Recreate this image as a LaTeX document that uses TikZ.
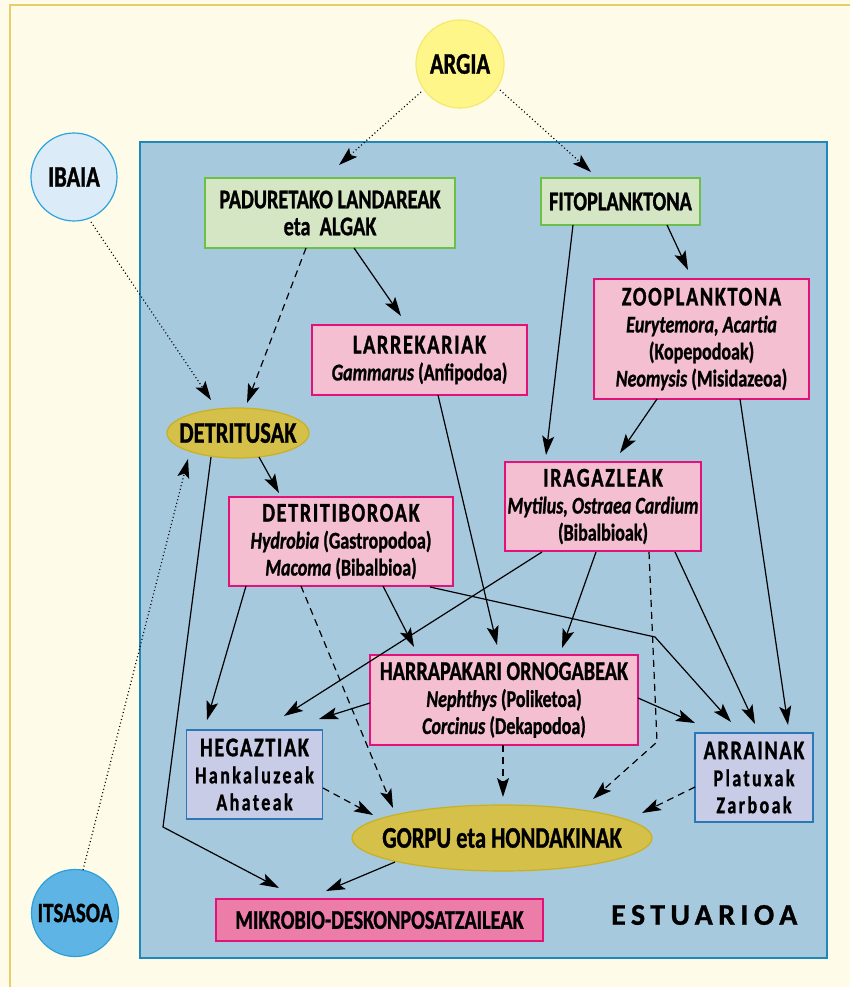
\documentclass[tikz,border=0pt]{standalone}
\usepackage{fontspec}
\setmainfont{Carlito}[FakeStretch=0.75,BoldFont={Carlito Bold},BoldItalicFont={Carlito Bold Italic},BoldFeatures={FakeBold=1},BoldItalicFeatures={FakeBold=1}]
\newfontfamily\spc{Carlito}[FakeStretch=0.75,LetterSpace=6,BoldFont={Carlito Bold},BoldFeatures={FakeBold=1}]
\newfontfamily\spcb{Carlito}[FakeStretch=0.75,LetterSpace=10,BoldFont={Carlito Bold},BoldFeatures={FakeBold=1}]
\newfontfamily\estfont{Carlito}[LetterSpace=18,BoldFont={Carlito Bold},BoldFeatures={FakeBold=1}]
\usetikzlibrary{arrows.meta,calc,shapes.geometric}
\definecolor{cream}{HTML}{FEFBE8}
\definecolor{creamline}{HTML}{E6CF6A}
\definecolor{estblue}{HTML}{A7C9DE}
\definecolor{estline}{HTML}{1E88B8}
\definecolor{greenfill}{HTML}{D4E6C3}
\definecolor{greenline}{HTML}{6CC04A}
\definecolor{pinkfill}{HTML}{F5BFD2}
\definecolor{pinkline}{HTML}{E2127A}
\definecolor{mikrofill}{HTML}{EC7CA8}
\definecolor{lilacfill}{HTML}{C8CCE6}
\definecolor{lilacline}{HTML}{2A78B8}
\definecolor{olivefill}{HTML}{D5C04A}
\definecolor{oliveline}{HTML}{C9B020}
\definecolor{sunfill}{HTML}{FFF68A}
\definecolor{sunline}{HTML}{F2E970}
\definecolor{riverfill}{HTML}{DCEBF8}
\definecolor{riverline}{HTML}{2BA3DC}
\definecolor{seafill}{HTML}{5EB5E5}
\definecolor{sealine}{HTML}{2A9FD8}
\newcommand{\hd}{\fontsize{27}{27}\selectfont}
\newcommand{\ovtext}[1]{\makebox[0pt]{#1}}
\begin{document}
\begin{tikzpicture}[x=1pt,y=-1pt,
  txt/.style={align=center,font=\bfseries\fontsize{24}{27}\selectfont},
  box/.style={txt,rectangle,draw,line width=1.3pt,inner sep=0pt},
  greenbox/.style={box,fill=greenfill,draw=greenline},
  pinkbox/.style={box,fill=pinkfill,draw=pinkline},
  lilacbox/.style={box,fill=lilacfill,draw=lilacline},
  oval/.style={align=center,font=\bfseries\fontsize{30}{30}\selectfont,ellipse,draw,line width=1.2pt,inner sep=0pt},
  arr/.style={line width=1.2pt,-{Stealth[length=19pt,width=12pt,inset=4pt]}},
  dashedarr/.style={arr,dash pattern=on 7pt off 5pt},
  dottedarr/.style={arr,dash pattern=on 1pt off 2.6pt}
]
\useasboundingbox (0,0) rectangle (850,987);
\fill[cream] (0,0) rectangle (850,987);
\draw[creamline,line width=1.5pt] (10,5) rectangle (880,1010);
\draw[fill=estblue,draw=estline,line width=1.2pt] (140,142) rectangle (827,958);

% nodes
\node[oval,fill=sunfill,draw=sunline,minimum width=88pt,minimum height=88pt] (ARGIA) at (460,64) {\ovtext{ARGIA}};
\node[oval,fill=riverfill,draw=riverline,minimum width=86pt,minimum height=88pt] (IBAIA) at (74,177) {\ovtext{IBAIA}};
\node[oval,fill=seafill,draw=sealine,minimum width=87pt,minimum height=87pt] (ITSASOA) at (75,913) {\ovtext{\fontsize{28}{28}\selectfont ITSASOA}};
\node[greenbox,minimum width=250pt,minimum height=70pt] (PAD) at (330,213) {{\hd PADURETAKO LANDAREAK}\\{\hd eta\ \ ALGAK}};
\node[greenbox,minimum width=159pt,minimum height=47pt] (FITO) at (620.5,201.5) {\hd FITOPLANKTONA};
\node[pinkbox,minimum width=215pt,minimum height=120pt] (ZOO) at (701.5,339) {{\spc\hd ZOOPLANKTONA}\\\textit{Eurytemora, Acartia}\\(Kopepodoak)\\\textit{Neomysis} (Misidazeoa)};
\node[pinkbox,minimum width=215pt,minimum height=70pt] (LARR) at (419.5,360) {{\spc\hd LARREKARIAK}\\\textit{Gammarus} (Anfipodoa)};
\node[oval,fill=olivefill,draw=oliveline,minimum width=142pt,minimum height=50pt] (DET) at (238,433) {\ovtext{DETRITUSAK}};
\node[pinkbox,minimum width=196pt,minimum height=89pt] (IRAG) at (603,506.5) {{\spc\hd IRAGAZLEAK}\\\textit{Mytilus, Ostraea Cardium}\\(Bibalbioak)};
\node[pinkbox,minimum width=224pt,minimum height=89pt] (DETRIT) at (341,541.5) {{\spc\hd DETRITIBOROAK}\\\textit{Hydrobia} (Gastropodoa)\\\textit{Macoma} (Bibalbioa)};
\node[pinkbox,minimum width=268pt,minimum height=90pt] (HARR) at (504,700) {{\hd HARRAPAKARI ORNOGABEAK}\\\textit{Nephthys} (Poliketoa)\\\textit{Corcinus} (Dekapodoa)};
\node[lilacbox,minimum width=136pt,minimum height=89pt] (HEG) at (254.5,774.5) {{\spc\hd HEGAZTIAK}\\{\spcb Hankaluzeak}\\{\spcb Ahateak}};
\node[lilacbox,minimum width=118pt,minimum height=89pt] (ARR) at (754,777.5) {{\spc\hd ARRAINAK}\\{\spcb Platuxak}\\{\spcb Zarboak}};
\node[oval,fill=olivefill,draw=oliveline,minimum width=300pt,minimum height=66pt] (GORPU) at (502,838) {\ovtext{GORPU eta HONDAKINAK}};
\node[box,fill=mikrofill,draw=pinkline,minimum width=327pt,minimum height=42pt] (MIKRO) at (379.5,920) {\hd MIKROBIO-DESKONPOSATZAILEAK};
\node[font=\estfont\bfseries\fontsize{30}{30}\selectfont,anchor=west,inner sep=0pt] (EST) at (611,915) {ESTUARIOA};

\coordinate (bendA) at (163,827);
\coordinate (bendB) at (657,742);
\coordinate (bendC) at (655,637);

% connectors
\draw[dottedarr] ($(ARGIA)+(-39,28)$) -- ($(PAD)+(9,-48)$);
\draw[dottedarr] ($(ARGIA)+(40,26)$) -- ($(FITO)+(-29.5,-29.5)$);
\draw[dottedarr] ($(IBAIA)+(17,45)$) -- ($(DET)+(-27,-33)$);
\draw[dottedarr] ($(ITSASOA)+(8,-43)$) -- ($(DET)+(-50,26)$);
\draw[dashedarr] ($(PAD)+(-24,35)$) -- ($(DET)+(9,-30)$);
\draw[arr] ($(PAD)+(24,35)$) -- ($(LARR)+(-18.5,-44)$);
\draw[arr] ($(FITO)+(-47.5,23.5)$) -- ($(IRAG)+(-57,-51.5)$);
\draw[arr] ($(FITO)+(46.5,23.5)$) -- ($(ZOO)+(-13.5,-69)$);
\draw[arr] ($(ZOO)+(-44.5,60)$) -- ($(IRAG)+(17,-53.5)$);
\draw[arr] ($(ZOO)+(38.5,60)$) -- ($(ARR)+(34,-52.5)$);
\draw[arr] ($(LARR)+(18.5,35)$) -- ($(HARR)+(-7,-55)$);
\draw[arr] ($(DET)+(21,24)$) -- ($(DETRIT)+(-62,-48.5)$);
\draw[arr] ($(DET)+(-27,24)$) -- (bendA) -- ($(MIKRO)+(-100.5,-32)$);
\draw[arr] ($(IRAG)+(-61,45.5)$) -- ($(HEG)+(29.5,-58.5)$);
\draw[arr] ($(IRAG)+(-7,45.5)$) -- ($(HARR)+(58,-52)$);
\draw[dashedarr] ($(IRAG)+(46,45.5)$) -- (bendB) -- ($(GORPU)+(91,-39)$);
\draw[arr] ($(IRAG)+(72,45.5)$) -- ($(ARR)+(1,-53.5)$);
\draw[arr] ($(DETRIT)+(-95,44.5)$) -- ($(HEG)+(-47.5,-54.5)$);
\draw[dashedarr] ($(DETRIT)+(-40,44.5)$) -- ($(GORPU)+(-109,-30)$);
\draw[arr] ($(DETRIT)+(42,44.5)$) -- ($(HARR)+(-90,-53)$);
\draw[arr] ($(DETRIT)+(89,45.5)$) -- (bendC) -- ($(ARR)+(-23,-55.5)$);
\draw[arr] ($(HARR)+(-134,3)$) -- ($(HEG)+(64.5,-55.5)$);
\draw[arr] ($(HARR)+(134,-2)$) -- ($(ARR)+(-59,-54.5)$);
\draw[dashedarr] ($(HARR)+(-1,45)$) -- ($(GORPU)+(1,-41)$);
\draw[dashedarr] ($(HEG)+(68.5,13.5)$) -- ($(GORPU)+(-129,-23)$);
\draw[dashedarr] ($(ARR)+(-59,9.5)$) -- ($(GORPU)+(140,-25)$);
\draw[arr] ($(GORPU)+(-107,24)$) -- ($(MIKRO)+(-53.5,-29)$);
\end{tikzpicture}
\end{document}
